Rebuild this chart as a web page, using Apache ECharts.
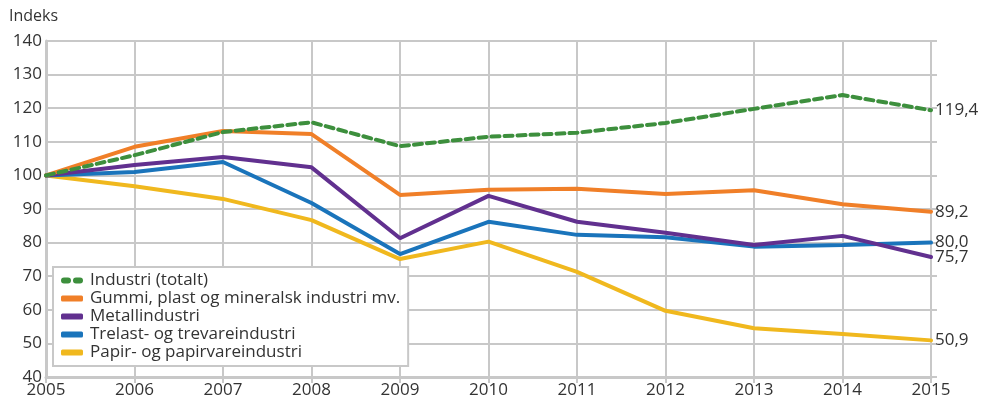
<!DOCTYPE html>
<html>
<head>
<meta charset="utf-8">
<script src="https://cdn.jsdelivr.net/npm/echarts@6/dist/echarts.min.js"></script>
<style>
html, body { margin: 0; padding: 0; background: #fff; }
#chart { width: 984px; height: 400px; }
</style>
</head>
<body>
<div id="chart"></div>
<script>
// år
var years = ['2005', '2006', '2007', '2008', '2009', '2010', '2011', '2012', '2013', '2014', '2015'];
var yTicks = [40, 50, 60, 70, 80, 90, 100, 110, 120, 130, 140];

var industri = [100, 106, 112.9, 115.8, 108.7, 111.5, 112.7, 115.6, 119.8, 123.9, 119.4];
var gummi = [100, 108.5, 113.2, 112.3, 94.2, 95.7, 96, 94.5, 95.6, 91.4, 89.2];
var metall = [100, 103.1, 105.5, 102.4, 81.3, 93.9, 86.2, 82.9, 79.3, 82, 75.7];
var trelast = [100, 101, 104, 91.8, 76.6, 86.2, 82.3, 81.6, 78.8, 79.3, 80.0];
var papir = [100, 96.8, 93, 86.7, 75.1, 80.3, 71.3, 59.7, 54.5, 52.8, 50.9];

var font = 'Open Sans';
var gridColor = '#c8c8c8';
var dashIcon = 'path://M3,0h4a3,3 0 0 1 0,6h-4a3,3 0 0 1 0,-6z M15,0h4a3,3 0 0 1 0,6h-4a3,3 0 0 1 0,-6z';

function line(name, data, color, dashed) {
	return {
		name: name,
		type: 'line',
		data: data,
		symbol: 'none',
		lineStyle: {
			color: color,
			width: 4,
			type: dashed ? [8, 5] : 'solid',
			cap: 'round'
		},
		itemStyle: { color: color },
		endLabel: {
			show: true,
			distance: 4,
			fontFamily: font,
			fontSize: 17,
			color: '#333',
			formatter: function (p) {
				return p.value.toFixed(1).replace('.', ',');
			}
		}
	};
}

var chart = echarts.init(document.getElementById('chart'));
chart.setOption({
	animation: false,
	textStyle: { fontFamily: font },
	grid: { left: 46, right: 53, top: 41, bottom: 23, containLabel: false },
	graphic: [{
		type: 'text',
		left: 9,
		top: 8,
		style: { text: 'Indeks', fontFamily: font, fontSize: 16, fill: '#333' }
	}],
	legend: {
		orient: 'vertical',
		left: 53,
		top: 267,
		padding: [5, 8, 5, 8],
		itemGap: 1,
		itemWidth: 22,
		itemHeight: 6,
		backgroundColor: '#fff',
		borderColor: gridColor,
		borderWidth: 2,
		borderRadius: 0,
		textStyle: { fontFamily: font, fontSize: 17, color: '#333', padding: [0, 0, 0, 2] },
		data: [
			{ name: 'Industri (totalt)', icon: dashIcon },
			{ name: 'Gummi, plast og mineralsk industri mv.', icon: 'roundRect' },
			{ name: 'Metallindustri', icon: 'roundRect' },
			{ name: 'Trelast- og trevareindustri', icon: 'roundRect' },
			{ name: 'Papir- og papirvareindustri', icon: 'roundRect' }
		]
	},
	xAxis: {
		type: 'category',
		data: years,
		boundaryGap: false,
		axisLine: { lineStyle: { color: gridColor, width: 3 } },
		axisTick: { show: true, length: 6, lineStyle: { color: gridColor, width: 2 } },
		splitLine: { show: true, lineStyle: { color: gridColor, width: 2 } },
		axisLabel: { fontFamily: font, fontSize: 17, color: '#333', margin: 5 }
	},
	yAxis: [{
		type: 'value',
		min: yTicks[0],
		max: yTicks[yTicks.length - 1],
		interval: 10,
		axisLine: { show: true, lineStyle: { color: gridColor, width: 3 } },
		axisTick: { show: false },
		splitLine: { lineStyle: { color: gridColor, width: 2 } },
		axisLabel: { fontFamily: font, fontSize: 17, color: '#333', margin: 4 }
	}, {
		type: 'value',
		position: 'right',
		min: yTicks[0],
		max: yTicks[yTicks.length - 1],
		interval: 10,
		axisLine: { show: true, lineStyle: { color: gridColor, width: 2 } },
		axisTick: { show: true, length: 6, lineStyle: { color: gridColor, width: 2 } },
		splitLine: { show: false },
		axisLabel: { show: false }
	}],
	series: [
		line('Papir- og papirvareindustri', papir, '#f0b81e'),
		line('Trelast- og trevareindustri', trelast, '#1a74bb'),
		line('Metallindustri', metall, '#61308f'),
		line('Gummi, plast og mineralsk industri mv.', gummi, '#f07f28'),
		line('Industri (totalt)', industri, '#3d8f3d', true)
	]
});
</script>
</body>
</html>
